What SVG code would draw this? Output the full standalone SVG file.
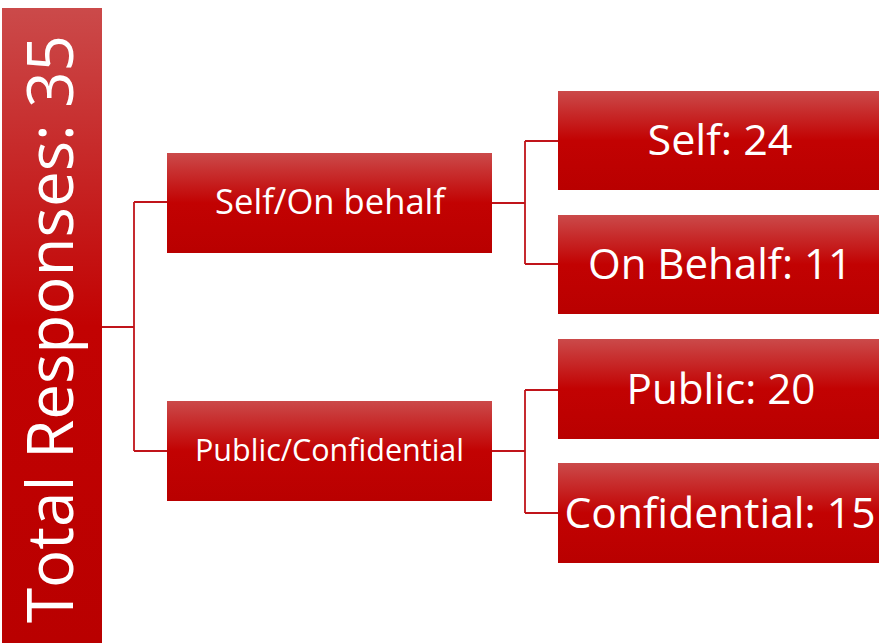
<svg xmlns="http://www.w3.org/2000/svg" width="879" height="643" viewBox="0 0 879 643">
  <defs>
    <linearGradient id="redFill" x1="0" y1="0" x2="0" y2="1">
      <stop offset="0" stop-color="#CB4A4A"/>
      <stop offset="0.5" stop-color="#C20202"/>
      <stop offset="1" stop-color="#B90000"/>
    </linearGradient>
  </defs>
  <style>
    .box { fill: url(#redFill); }
    .lbl { fill: #FFFFFF; font-family: "Open Sans", "Liberation Sans", sans-serif; text-anchor: middle; }
    .l1 { font-size: 35px; }
    .l1s { font-size: 31px; }
    .l2 { font-size: 42px; }
    .root { font-size: 64px; }
    .conn { fill: none; stroke: #C0141A; stroke-width: 1.8; }
  </style>
  <rect width="879" height="643" fill="#FFFFFF"/>

  <!-- connectors -->
  <g id="connectors">
    <path class="conn" d="M102,327 H134 M134,202 V451 M134,202 H167 M134,451 H167"/>
    <path class="conn" d="M492,203 H525 M525,141 V264 M525,141 H558 M525,264 H558"/>
    <path class="conn" d="M492,451 H525 M525,390 V513 M525,390 H558 M525,513 H558"/>
  </g>

  <!-- root -->
  <g id="root">
    <rect class="box" x="2" y="8" width="100" height="636"/>
    <text class="lbl root" transform="translate(73,329) rotate(-90)" x="0" y="0" textLength="588" lengthAdjust="spacingAndGlyphs">Total Responses: 35</text>
  </g>

  <!-- level 1 -->
  <g id="self-on-behalf">
    <rect class="box" x="167" y="153" width="325" height="100"/>
    <text class="lbl l1" x="330" y="214" textLength="230" lengthAdjust="spacingAndGlyphs">Self/On behalf</text>
  </g>
  <g id="public-confidential">
    <rect class="box" x="167" y="401" width="325" height="100"/>
    <text class="lbl l1s" x="329.5" y="461" textLength="269" lengthAdjust="spacingAndGlyphs">Public/Confidential</text>
  </g>

  <!-- level 2 -->
  <g id="self">
    <rect class="box" x="558" y="91" width="321" height="99"/>
    <text class="lbl l2" x="720" y="155" textLength="145" lengthAdjust="spacingAndGlyphs">Self: 24</text>
  </g>
  <g id="on-behalf">
    <rect class="box" x="558" y="215" width="321" height="99"/>
    <text class="lbl l2" x="720" y="279" textLength="264" lengthAdjust="spacingAndGlyphs">On Behalf: 11</text>
  </g>
  <g id="public">
    <rect class="box" x="558" y="339" width="321" height="100"/>
    <text class="lbl l2" x="721" y="404" textLength="189" lengthAdjust="spacingAndGlyphs">Public: 20</text>
  </g>
  <g id="confidential">
    <rect class="box" x="558" y="463" width="321" height="100"/>
    <text class="lbl l2" x="720" y="528" textLength="311" lengthAdjust="spacingAndGlyphs">Confidential: 15</text>
  </g>
</svg>
